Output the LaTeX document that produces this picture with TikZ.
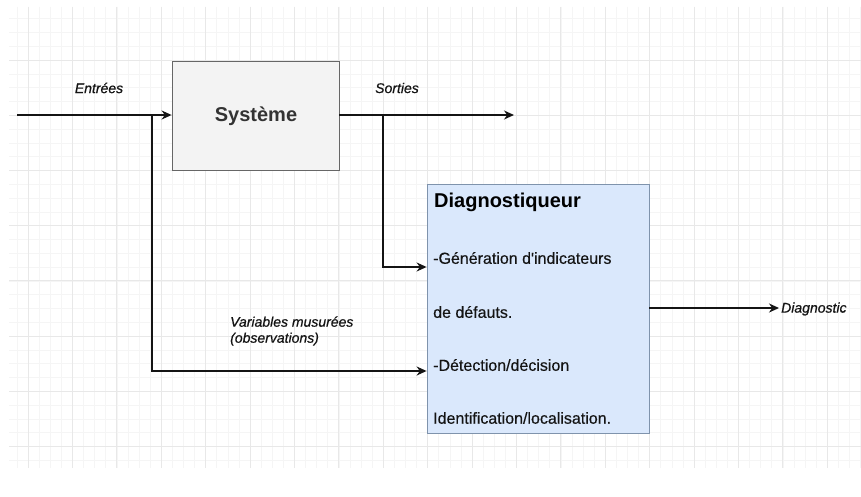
\documentclass[tikz,border=0pt]{standalone}
\usepackage{fontspec}
\setmainfont{Liberation Sans}[Ligatures=TeXOff]
\newfontface\lblfont{Liberation Sans Italic}[Ligatures=TeXOff,FakeBold=0.6]
\newfontface\bodyfont{Liberation Sans}[Ligatures=TeXOff,FakeBold=0.4]
\usetikzlibrary{arrows.meta,calc}

\definecolor{gridmajor}{HTML}{E8E8E8}
\definecolor{gridminor}{HTML}{F5F5F5}
\definecolor{sysfill}{HTML}{F3F3F3}
\definecolor{sysborder}{HTML}{666666}
\definecolor{diagfill}{HTML}{DAE8FC}
\definecolor{diagborder}{HTML}{7F93AC}
\definecolor{ink}{HTML}{141414}

\tikzset{
  wire/.style={draw=ink, line width=1.5pt},
  arr/.style={wire, -{Stealth[length=10pt,width=9pt]}},
  sysbox/.style={draw=sysborder, fill=sysfill, line width=0.8pt,
    minimum width=167pt, minimum height=109pt, inner sep=0pt},
  diagbox/.style={draw=diagborder, fill=diagfill, line width=0.8pt,
    minimum width=222pt, minimum height=249pt, inner sep=0pt},
  lbl/.style={font=\lblfont\fontsize{14}{16}\selectfont, text=ink, inner sep=0pt},
  body/.style={font=\bodyfont\fontsize{16}{18}\selectfont, text=ink, anchor=west, inner sep=0pt},
}

\begin{document}
\begin{tikzpicture}[x=1pt, y=-1pt]
  % page frame
  \fill[white] (0,0) rectangle (861,497);
  \useasboundingbox (0,0) rectangle (861,497);

  % background grid
  \begin{scope}
    \clip (9,7) rectangle (861,468);
    \foreach \i in {-1,...,80} {
      \draw[gridminor, line width=0.5pt] ({28+11.1*\i},7) -- ({28+11.1*\i},468);
    }
    \foreach \j in {-1,...,36} {
      \draw[gridminor, line width=0.5pt] (9,{4.8+13.8*\j}) -- (861,{4.8+13.8*\j});
    }
    \foreach \i in {0,...,19} {
      \draw[gridmajor, line width=0.8pt] ({28+44.4*\i},7) -- ({28+44.4*\i},468);
    }
    \foreach \j in {0,...,8} {
      \draw[gridmajor, line width=0.8pt] (9,{4.8+55.2*\j}) -- (861,{4.8+55.2*\j});
    }
  \end{scope}

  % blocks
  \node[sysbox] (sys) at (255.5,115.5) {};
  \node[font=\fontsize{20}{22}\selectfont\bfseries, text=black!80] (systxt) at (256,116) {Système};

  \node[diagbox] (diag) at (538,308.5) {};
  \node[body, font=\fontsize{20}{22}\selectfont\bfseries, text=black] (dt0) at (434,202) {Diagnostiqueur};
  \node[body] (dt1) at (433,258) {-Génération d'indicateurs};
  \node[body] (dt2) at (433,312) {de défauts.};
  \node[body] (dt3) at (433,365) {-Détection/décision};
  \node[body] (dt4) at (433,418) {Identification/localisation.};

  % connection points
  \coordinate (inStart) at (17,115);
  \coordinate (bIn) at (152,115);
  \coordinate (bOut) at (383,115);
  \coordinate (sEnd) at (514,115);
  \coordinate (dEnd) at (779,308);

  % signals
  \draw[arr] (inStart) -- (sys.west |- inStart);
  \draw[arr] (sys.east |- bOut) -- (sEnd);
  \draw[arr] (bOut) |- ([yshift=41.5pt]diag.west);
  \draw[arr] (bIn) |- ([yshift=-62.5pt]diag.west);
  \draw[arr] (diag.east |- dEnd) -- (dEnd);

  % labels
  \node[lbl] (lEntrees) at (99,88) {Entrées};
  \node[lbl] (lSorties) at (397,88) {Sorties};
  \node[lbl, anchor=west] (lDiag) at (781,309) {Diagnostic};
  \node[lbl, anchor=west, align=left] (lVar) at (230,331)
    {Variables musurées\\(observations)};
\end{tikzpicture}
\end{document}
